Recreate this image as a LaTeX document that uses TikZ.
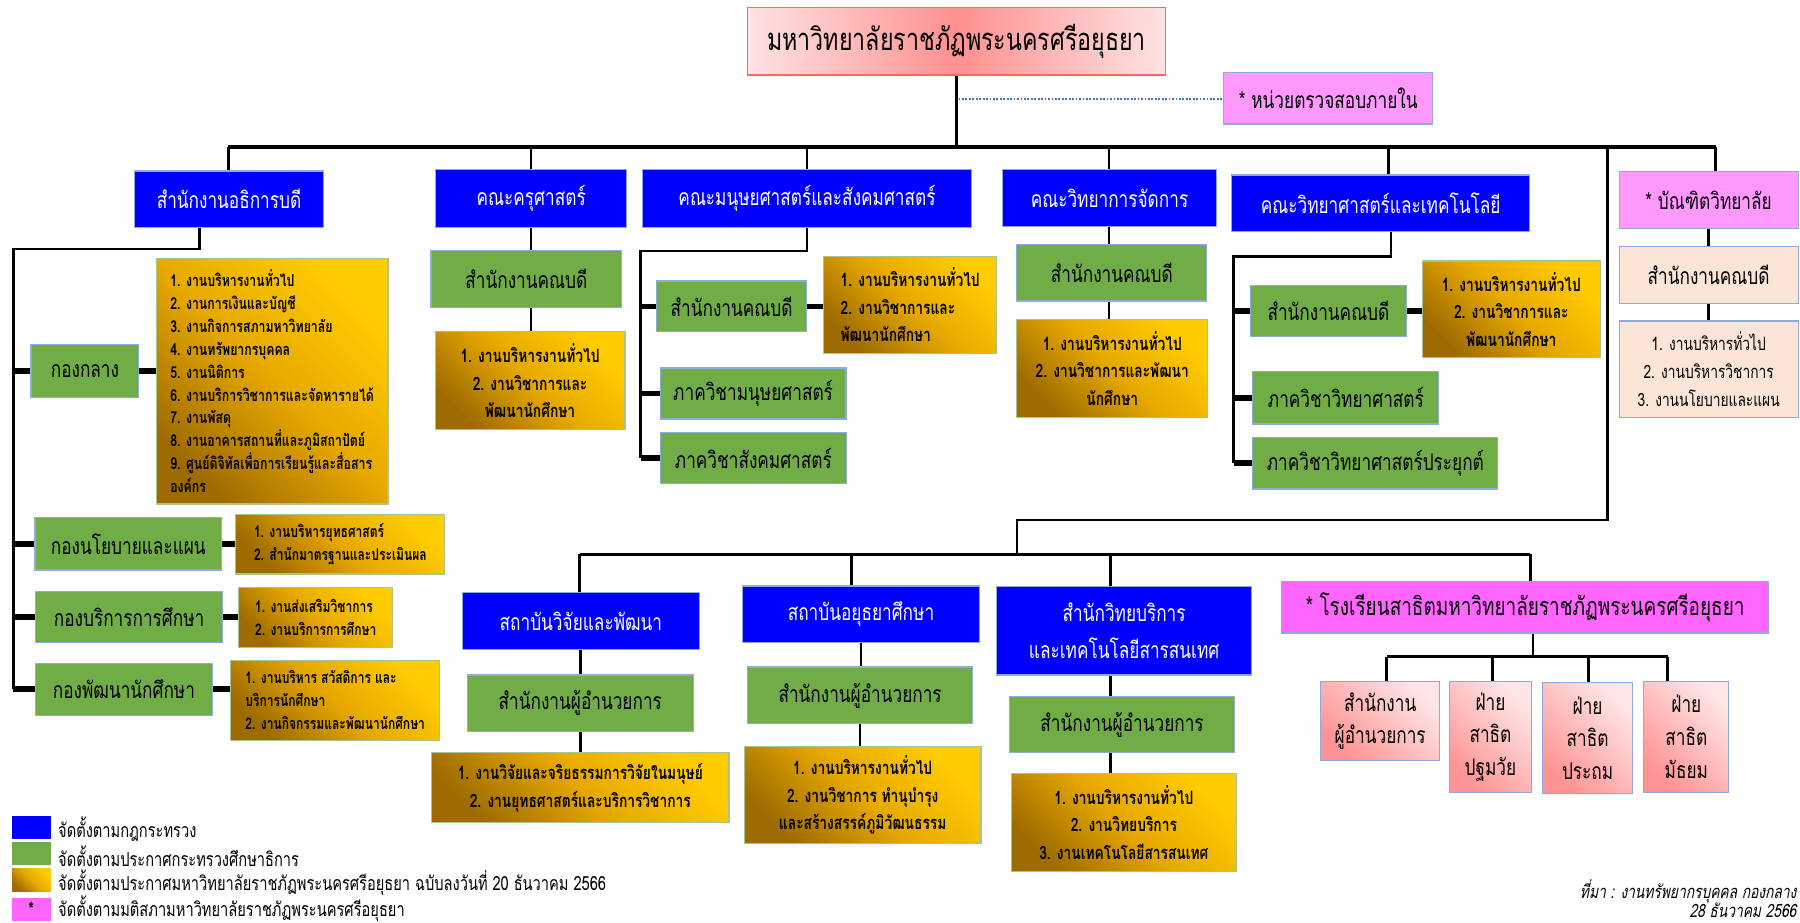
\documentclass[tikz,border=0pt]{standalone}
\usepackage{fontspec}
\setmainfont{Loma}[Script=Thai, FakeStretch=0.75]
\newfontfamily\slthai{Loma}[Script=Thai, FakeStretch=0.75, FakeSlant=0.2]
\usepackage{tikz}
\definecolor{ministry}{HTML}{0000FF}
\definecolor{moe}{HTML}{70AD47}
\definecolor{goldtop}{HTML}{FFCC00}
\definecolor{goldmid}{HTML}{E6A800}
\definecolor{goldbot}{HTML}{9E6B00}
\definecolor{goldedge}{HTML}{A9C48E}
\definecolor{edgeblue}{HTML}{8FAADC}
\definecolor{council}{HTML}{FF99FF}
\definecolor{school}{HTML}{FF66FF}
\definecolor{peach}{HTML}{FBE5D6}
\definecolor{unidark}{HTML}{FF9090}
\definecolor{unilight}{HTML}{FFE3E3}
\definecolor{uniedge}{HTML}{FF6666}
\definecolor{subtop}{HTML}{FFE6E6}
\definecolor{subbot}{HTML}{FF9393}
\definecolor{dotblue}{HTML}{4472C4}

\begin{document}
\begin{tikzpicture}
            [every node/.style={inner sep=0pt},
             conn/.style={line width=2.4pt, color=black},
             bus/.style={line width=3.4pt, color=black},
             stub/.style={line width=5pt, color=black},
             unibox/.style={draw=uniedge, line width=1pt, left color=unilight, right color=unilight, middle color=unidark, align=center, font=\fontsize{27}{32}\selectfont},
             bluebox/.style={draw=edgeblue, line width=1pt, fill=ministry, text=white, align=center, font=\fontsize{20}{32}\selectfont},
             greenbox/.style={draw=edgeblue, line width=1pt, fill=moe, align=center, font=\fontsize{20}{24}\selectfont},
             pinkbox/.style={draw=edgeblue, line width=1pt, fill=council, align=center, font=\fontsize{20}{24}\selectfont},
             peachbox/.style={draw=edgeblue, line width=1pt, fill=peach, align=center, font=\fontsize{20}{24}\selectfont},
             goldbox/.style={draw=goldedge, line width=1pt, top color=goldtop, bottom color=goldbot, middle color=goldmid, shading angle=-45, align=center, font=\bfseries\fontsize{16}{24}\selectfont},
             goldsmall/.style={goldbox, align=left, font=\bfseries\fontsize{14}{20}\selectfont},
             subbox/.style={draw=edgeblue, line width=1pt, top color=subtop, bottom color=subbot, shading angle=-45, align=center, font=\fontsize{20}{28.5}\selectfont},
             keybox/.style={minimum width=33.5pt, minimum height=20pt},
             keytext/.style={anchor=west, font=\fontsize{17}{20}\selectfont},
             srctext/.style={anchor=east, font=\slthai\fontsize{16}{19}\selectfont}]
                \useasboundingbox (0pt, 0pt) rectangle (1568pt, -804pt);
                \fill [white] (0pt, 0pt) rectangle (1568pt, -804pt);
                \node (1) [unibox, minimum width=364pt, minimum height=59pt] at (833.25pt, -35.85pt) {มหาวิทยาลัยราชภัฏพระนครศรีอยุธยา};
                \node (2) [pinkbox, minimum width=182pt, minimum height=45pt] at (1157pt, -85.5pt) {* หน่วยตรวจสอบภายใน};
                \node (3) [bluebox, minimum width=165pt, minimum height=49pt] at (199.5pt, -173.5pt) {สำนักงานอธิการบดี};
                \node (4) [bluebox, minimum width=166.5pt, minimum height=50pt] at (462.75pt, -173pt) {คณะครุศาสตร์};
                \node (5) [bluebox, minimum width=286pt, minimum height=50pt] at (703pt, -173pt) {คณะมนุษยศาสตร์และสังคมศาสตร์};
                \node (6) [bluebox, minimum width=186pt, minimum height=49pt] at (966.5pt, -172.5pt) {คณะวิทยาการจัดการ};
                \node (7) [bluebox, minimum width=260pt, minimum height=49.4pt] at (1202.7pt, -177.1pt) {คณะวิทยาศาสตร์และเทคโนโลยี};
                \node (8) [pinkbox, minimum width=156pt, minimum height=49.4pt] at (1488.4pt, -174.2pt) {* บัณฑิตวิทยาลัย};
                \node (9) [greenbox, minimum width=94pt, minimum height=46pt] at (74pt, -323pt) {กองกลาง};
                \node (10) [goldsmall, font=\bfseries\fontsize{14.3}{20}\selectfont, minimum width=202pt, minimum height=214pt] at (237pt, -332pt) {1. งานบริหารงานทั่วไป\\2. งานการเงินและบัญชี\\3. งานกิจการสภามหาวิทยาลัย\\4. งานทรัพยากรบุคคล\\5. งานนิติการ\\6. งานบริการวิชาการและจัดหารายได้\\7. งานพัสดุ\\8. งานอาคารสถานที่และภูมิสถาปัตย์\\9. ศูนย์ดิจิทัลเพื่อการเรียนรู้และสื่อสาร\\องค์กร};
                \node (11) [greenbox, minimum width=162.5pt, minimum height=45.5pt] at (111.75pt, -473.75pt) {กองนโยบายและแผน};
                \node (12) [goldsmall, minimum width=182pt, minimum height=52pt] at (296.5pt, -474pt) {1. งานบริหารยุทธศาสตร์\\2. สำนักมาตรฐานและประเมินผล};
                \node (13) [greenbox, minimum width=163pt, minimum height=45pt] at (112.5pt, -537.5pt) {กองบริการการศึกษา};
                \node (14) [goldsmall, minimum width=134pt, minimum height=52pt] at (275pt, -538pt) {1. งานส่งเสริมวิชาการ\\2. งานบริการการศึกษา};
                \node (15) [greenbox, minimum width=154pt, minimum height=45pt] at (108pt, -600.5pt) {กองพัฒนานักศึกษา};
                \node (16) [goldsmall, minimum width=182pt, minimum height=69.5pt] at (292pt, -610pt) {1. งานบริหาร สวัสดิการ และ\\บริการนักศึกษา\\2. งานกิจกรรมและพัฒนานักศึกษา};
                \node (17) [greenbox, minimum width=166pt, minimum height=49pt] at (458.5pt, -243pt) {สำนักงานคณบดี};
                \node (18) [goldbox, minimum width=165.5pt, minimum height=85.5pt] at (461.75pt, -331.75pt) {1. งานบริหารงานทั่วไป\\2. งานวิชาการและ\\พัฒนานักศึกษา};
                \node (19) [greenbox, minimum width=130.6pt, minimum height=44.2pt] at (637.3pt, -266.9pt) {สำนักงานคณบดี};
                \node (20) [goldbox, align=left, minimum width=150.3pt, minimum height=84pt] at (792.85pt, -265.65pt) {1. งานบริหารงานทั่วไป\\2. งานวิชาการและ\\พัฒนานักศึกษา};
                \node (21) [greenbox, minimum width=162pt, minimum height=44.4pt] at (656pt, -342.8pt) {ภาควิชามนุษยศาสตร์};
                \node (22) [greenbox, minimum width=162.5pt, minimum height=44.5pt] at (656.25pt, -399.25pt) {ภาควิชาสังคมศาสตร์};
                \node (23) [greenbox, minimum width=165.5pt, minimum height=49.4pt] at (968.55pt, -237.5pt) {สำนักงานคณบดี};
                \node (24) [goldbox, minimum width=166.2pt, minimum height=85.5pt] at (968.9pt, -320.75pt) {1. งานบริหารงานทั่วไป\\2. งานวิชาการและพัฒนา\\นักศึกษา};
                \node (25) [greenbox, minimum width=135.6pt, minimum height=44.4pt] at (1157.2pt, -271pt) {สำนักงานคณบดี};
                \node (26) [goldbox, minimum width=155pt, minimum height=84.2pt] at (1316.5pt, -269.4pt) {1. งานบริหารงานทั่วไป\\2. งานวิชาการและ\\พัฒนานักศึกษา};
                \node (27) [greenbox, minimum width=162pt, minimum height=45.6pt] at (1172.4pt, -346.5pt) {ภาควิชาวิทยาศาสตร์};
                \node (28) [greenbox, minimum width=213.4pt, minimum height=45pt] at (1198.1pt, -403.4pt) {ภาควิชาวิทยาศาสตร์ประยุกต์};
                \node (29) [peachbox, minimum width=156pt, minimum height=49.3pt] at (1488.4pt, -239.55pt) {สำนักงานคณบดี};
                \node (30) [peachbox, font=\fontsize{16}{24.5}\selectfont, minimum width=156pt, minimum height=84.2pt] at (1488.4pt, -321.7pt) {1. งานบริหารทั่วไป\\2. งานบริหารวิชาการ\\3. งานนโยบายและแผน};
                \node (31) [bluebox, minimum width=206pt, minimum height=50pt] at (506pt, -541pt) {สถาบันวิจัยและพัฒนา};
                \node (32) [greenbox, minimum width=197pt, minimum height=49pt] at (505.5pt, -612.5pt) {สำนักงานผู้อำนวยการ};
                \node (33) [goldbox, minimum width=259pt, minimum height=61pt] at (505.5pt, -686.1pt) {1. งานวิจัยและจริยธรรมการวิจัยในมนุษย์\\2. งานยุทธศาสตร์และบริการวิชาการ};
                \node (34) [bluebox, minimum width=206pt, minimum height=49.1pt] at (750pt, -535pt) {สถาบันอยุธยาศึกษา};
                \node (35) [greenbox, minimum width=196.5pt, minimum height=49.6pt] at (749.25pt, -605.8pt) {สำนักงานผู้อำนวยการ};
                \node (36) [goldbox, minimum width=206pt, minimum height=84.6pt] at (751.5pt, -692.7pt) {1. งานบริหารงานทั่วไป\\2. งานวิชาการ ทำนุบำรุง\\และสร้างสรรค์ภูมิวัฒนธรรม};
                \node (37) [bluebox, minimum width=222.5pt, minimum height=77pt] at (979.25pt, -549.5pt) {สำนักวิทยบริการ\\และเทคโนโลยีสารสนเทศ};
                \node (38) [greenbox, minimum width=196pt, minimum height=48.8pt] at (977.45pt, -631.2pt) {สำนักงานผู้อำนวยการ};
                \node (39) [goldbox, minimum width=196pt, minimum height=85pt] at (979pt, -716.5pt) {1. งานบริหารงานทั่วไป\\2. งานวิทยบริการ\\3. งานเทคโนโลยีสารสนเทศ};
                \node (40) [pinkbox, fill=school, font=\fontsize{22}{26}\selectfont, minimum width=424pt, minimum height=44.8pt] at (1328.55pt, -529pt) {* โรงเรียนสาธิตมหาวิทยาลัยราชภัฏพระนครศรีอยุธยา};
                \node (41) [subbox, minimum width=103.4pt, minimum height=68.9pt] at (1202.3pt, -628.15pt) {สำนักงาน\\ผู้อำนวยการ};
                \node (42) [subbox, minimum width=71.3pt, minimum height=96.3pt] at (1298.35pt, -641.85pt) {ฝ่าย\\สาธิต\\ปฐมวัย};
                \node (43) [subbox, minimum width=78pt, minimum height=96.4pt] at (1383pt, -642.8pt) {ฝ่าย\\สาธิต\\ประถม};
                \node (44) [subbox, minimum width=74pt, minimum height=96.3pt] at (1469pt, -641.85pt) {ฝ่าย\\สาธิต\\มัธยม};
                \node (45) [keybox, fill=ministry] at (27.25pt, -720.8pt) {};
                \node (46) [keybox, fill=moe] at (27.25pt, -743.25pt) {};
                \node (47) [keybox, top color=goldtop, bottom color=goldbot, middle color=goldmid, shading angle=-45] at (27.25pt, -766.5pt) {};
                \node (48) [keybox, fill=school, font=\bfseries\fontsize{17}{17}\selectfont] at (27.25pt, -792.4pt) {*};
                \node (49) [keytext] at (50.5pt, -722.4pt) {จัดตั้งตามกฎกระทรวง};
                \node (50) [keytext] at (50.5pt, -745.6pt) {จัดตั้งตามประกาศกระทรวงศึกษาธิการ};
                \node (51) [keytext] at (50.5pt, -768.8pt) {จัดตั้งตามประกาศมหาวิทยาลัยราชภัฏพระนครศรีอยุธยา ฉบับลงวันที่ 20 ธันวาคม 2566};
                \node (52) [keytext] at (50.5pt, -791.5pt) {จัดตั้งตามมติสภามหาวิทยาลัยราชภัฏพระนครศรีอยุธยา};
                \node (53) [srctext] at (1565pt, -776.6pt) {ที่มา : งานทรัพยากรบุคคล กองกลาง};
                \node (54) [srctext] at (1565pt, -792.6pt) {28 ธันวาคม 2566};
                \coordinate (c1) at (199pt, -128pt);
                \coordinate (c2) at (1494.6pt, -128pt);
                \coordinate (d2) at (462.5pt, -128pt);
                \coordinate (d3) at (703pt, -128pt);
                \coordinate (d4) at (966pt, -128pt);
                \coordinate (d5) at (1209.4pt, -128pt);
                \coordinate (e0) at (1400pt, -128pt);
                \coordinate (e1) at (1400pt, -453pt);
                \coordinate (e2) at (886pt, -453pt);
                \coordinate (e3) at (886pt, -483pt);
                \coordinate (f1) at (505pt, -483pt);
                \coordinate (f2) at (742pt, -483pt);
                \coordinate (f3) at (967.5pt, -483pt);
                \coordinate (f4) at (1333pt, -483pt);
                \coordinate (a0) at (174pt, -217pt);
                \coordinate (a1) at (11.6pt, -217pt);
                \coordinate (h0) at (703pt, -218.6pt);
                \coordinate (h1) at (558pt, -218.6pt);
                \coordinate (k0) at (1211.6pt, -223.6pt);
                \coordinate (k1) at (1074.7pt, -223.6pt);
                \coordinate (g0) at (1335.5pt, -572pt);
                \coordinate (g1) at (1208pt, -572pt);
                \coordinate (g2) at (1300pt, -572pt);
                \coordinate (g3) at (1384pt, -572pt);
                \coordinate (g4) at (1452.7pt, -572pt);
                \coordinate (t0) at (835pt, -86.2pt);
                \draw [conn] (1.south) -- (1.south |- c1);
                \draw [line width=2pt, color=dotblue, dash pattern=on 1.6pt off 1.4pt] (t0) -- (t0 -| 2.west);
                \draw [bus] (c1) -- (c2);
                \draw [conn] (c1) -- (c1 |- 3.north);
                \draw [conn] (d2) -- (d2 |- 4.north);
                \draw [conn] (d3) -- (d3 |- 5.north);
                \draw [conn] (d4) -- (d4 |- 6.north);
                \draw [conn] (d5) -- (d5 |- 7.north);
                \draw [conn] (c2) -- (c2 |- 8.north);
                \draw [conn] (a0 |- 3.south) -- (a0) -- (a1) -- (a1 |- 15.west);
                \draw [stub] (a1 |- 9.west) -- (9.west);
                \draw [stub] (a1 |- 11.west) -- (11.west);
                \draw [stub] (a1 |- 13.west) -- (13.west);
                \draw [stub] (a1 |- 15.west) -- (15.west);
                \draw [stub] (9.east) -- (9.east -| 10.west);
                \draw [stub] (11.east) -- (11.east -| 12.west);
                \draw [stub] (13.east) -- (13.east -| 14.west);
                \draw [stub] (15.east) -- (15.east -| 16.west);
                \draw [conn] (d2 |- 4.south) -- (d2 |- 17.north);
                \draw [conn] (d2 |- 17.south) -- (d2 |- 18.north);
                \draw [conn] (h0 |- 5.south) -- (h0) -- (h1) -- (h1 |- 22.west);
                \draw [stub] (h1 |- 19.west) -- (19.west);
                \draw [stub] (h1 |- 21.west) -- (21.west);
                \draw [stub] (h1 |- 22.west) -- (22.west);
                \draw [stub] (19.east) -- (19.east -| 20.west);
                \draw [conn] (d4 |- 6.south) -- (d4 |- 23.north);
                \draw [conn] (d4 |- 23.south) -- (d4 |- 24.north);
                \draw [conn] (k0 |- 7.south) -- (k0) -- (k1) -- (k1 |- 28.west);
                \draw [stub] (k1 |- 25.west) -- (25.west);
                \draw [stub] (k1 |- 27.west) -- (27.west);
                \draw [stub] (k1 |- 28.west) -- (28.west);
                \draw [stub] (25.east) -- (25.east -| 26.west);
                \draw [conn] (8.south) -- (8.south |- 29.north);
                \draw [conn] (29.south) -- (29.south |- 30.north);
                \draw [conn] (e0) -- (e1) -- (e2) -- (e3);
                \draw [conn] (f1) -- (f4);
                \draw [conn] (f1) -- (f1 |- 31.north);
                \draw [conn] (f2) -- (f2 |- 34.north);
                \draw [conn] (f3) -- (f3 |- 37.north);
                \draw [conn] (f4) -- (f4 |- 40.north);
                \draw [conn] (31.south) -- (31.south |- 32.north);
                \draw [conn] (32.south) -- (32.south |- 33.north);
                \draw [conn] (34.south) -- (34.south |- 35.north);
                \draw [conn] (35.south) -- (35.south |- 36.north);
                \draw [conn] (f3 |- 37.south) -- (f3 |- 38.north);
                \draw [conn] (f3 |- 38.south) -- (f3 |- 39.north);
                \draw [conn] (g0 |- 40.south) -- (g0);
                \draw [conn] (g1) -- (g4);
                \draw [conn] (g1) -- (g1 |- 41.north);
                \draw [conn] (g2) -- (g2 |- 42.north);
                \draw [conn] (g3) -- (g3 |- 43.north);
                \draw [conn] (g4) -- (g4 |- 44.north);
            \end{tikzpicture}
\end{document}
